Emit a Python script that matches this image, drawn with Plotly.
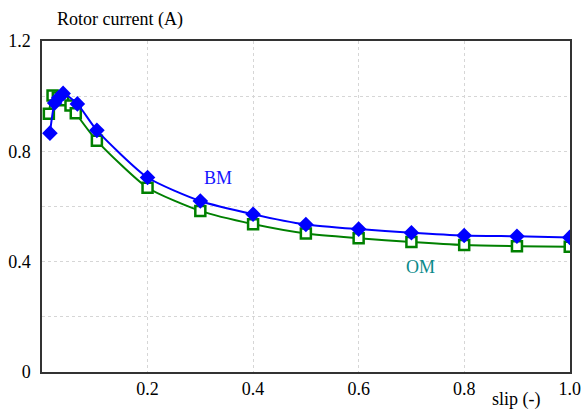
import plotly.graph_objects as go

# slip values and rotor current (A)
bm_slip = [0.015, 0.024, 0.032, 0.040, 0.067, 0.104, 0.2, 0.3, 0.4, 0.5, 0.6, 0.7, 0.8, 0.9, 1.0]
bm_current = [0.866, 0.975, 0.995, 1.010, 0.972, 0.876, 0.705, 0.620, 0.572, 0.535, 0.518, 0.505, 0.495, 0.492, 0.488]

om_slip = [0.013, 0.020, 0.030, 0.040, 0.054, 0.064, 0.104, 0.2, 0.3, 0.4, 0.5, 0.6, 0.7, 0.8, 0.9, 1.0]
om_current = [0.936, 1.002, 0.995, 0.985, 0.966, 0.938, 0.838, 0.668, 0.584, 0.536, 0.502, 0.485, 0.471, 0.460, 0.456, 0.454]

y_ticks = [0, 0.2, 0.4, 0.6, 0.8, 1.0, 1.2]
y_tick_text = ["0", "", "0.4", "", "0.8", "", "1.2"]
x_ticks = [0.2, 0.4, 0.6, 0.8, 1.0]
x_tick_text = ["0.2", "0.4", "0.6", "0.8", "1.0"]

FONT = "'Liberation Serif', Tinos, 'Times New Roman', Times, 'DejaVu Serif', serif"

fig = go.Figure()
fig.add_trace(go.Scatter(
    x=om_slip, y=om_current, mode="lines+markers", name="OM",
    line=dict(color="#008000", width=2, shape="spline", smoothing=0.6),
    marker=dict(symbol="square", size=10, color="white",
                line=dict(color="#008000", width=2.5)),
))
fig.add_trace(go.Scatter(
    x=bm_slip, y=bm_current, mode="lines+markers", name="BM",
    line=dict(color="#0000ff", width=2, shape="spline", smoothing=0.6),
    marker=dict(symbol="diamond", size=12, color="#0000ff"),
))

fig.add_annotation(x=0.333, y=0.705, xref="x", yref="y", text="BM", showarrow=False,
                   font=dict(family=FONT, size=18, color="#1414ff"))
fig.add_annotation(x=0.717, y=0.38, xref="x", yref="y", text="OM", showarrow=False,
                   font=dict(family=FONT, size=18, color="#0a8a8a"))
fig.add_annotation(x=55, y=20, xref="paper", yref="paper", text="Rotor current (A)",
                   showarrow=False, xanchor="left", yanchor="middle",
                   font=dict(family=FONT, size=18, color="black"))
fig.add_annotation(x=526, y=399, xref="paper", yref="paper", text="slip (-)",
                   showarrow=False, xanchor="center", yanchor="middle",
                   font=dict(family=FONT, size=18, color="black"))

# convert pixel annotations to paper coords
L, R, T, B = 42, 7, 41, 38
W, H = 588, 410
pw, ph = W - L - R, H - T - B
for a in fig.layout.annotations:
    if a.xref == "paper":
        a.x = (a.x - L) / pw
        a.y = 1 - (a.y - T) / ph

fig.update_layout(
    width=W, height=H,
    margin=dict(l=L, r=R, t=T, b=B),
    paper_bgcolor="white", plot_bgcolor="white",
    showlegend=False,
    font=dict(family=FONT, size=18, color="black"),
)
fig.update_xaxes(
    range=[0, 1.0005], tickvals=x_ticks, ticktext=x_tick_text,
    showgrid=True, gridcolor="#d6d6d6", griddash="dot", gridwidth=1,
    showline=True, linecolor="#333333", linewidth=1.5, mirror=True,
    ticks="", zeroline=False, ticklabelstandoff=0, ticklabeloverflow="allow",
    tickfont=dict(family=FONT, size=18),
)
fig.update_yaxes(
    range=[0, 1.2], tickvals=y_ticks, ticktext=y_tick_text,
    showgrid=True, gridcolor="#d6d6d6", griddash="dot", gridwidth=1,
    showline=True, linecolor="#333333", linewidth=1.5, mirror=True,
    ticks="", zeroline=False, ticklabelstandoff=6, ticklabeloverflow="allow",
    tickfont=dict(family=FONT, size=18),
)

fig.write_html("out.html")
